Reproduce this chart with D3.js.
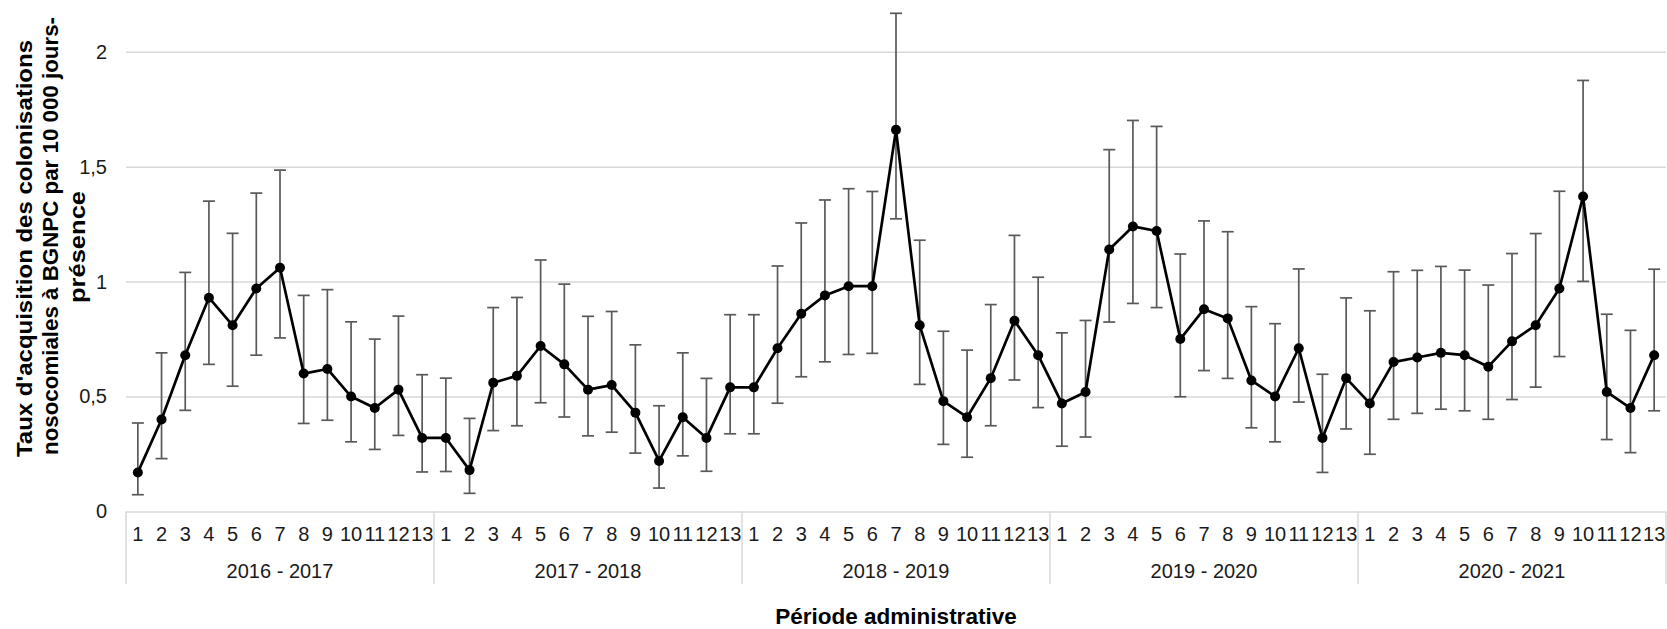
<!DOCTYPE html>
<html>
<head>
<meta charset="utf-8">
<script src="https://cdn.jsdelivr.net/npm/d3@7"></script>
<style>
  body { margin: 0; background: #fff; }
  text { font-family: "Liberation Sans", Arial, sans-serif; }
</style>
</head>
<body>
<div id="chart"></div>
<script>
// categories
var years = ["2016 - 2017", "2017 - 2018", "2018 - 2019", "2019 - 2020", "2020 - 2021"];
var periods = ["1", "2", "3", "4", "5", "6", "7", "8", "9", "10", "11", "12", "13"];
var yTicks = [0, 0.5, 1, 1.5, 2];

// acquisition rate per 10 000 patient-days, one value per period
var rates = [
  0.17, 0.40, 0.68, 0.93, 0.81, 0.97, 1.06, 0.60, 0.62, 0.50, 0.45, 0.53, 0.32,
  0.32, 0.18, 0.56, 0.59, 0.72, 0.64, 0.53, 0.55, 0.43, 0.22, 0.41, 0.32, 0.54,
  0.54, 0.71, 0.86, 0.94, 0.98, 0.98, 1.66, 0.81, 0.48, 0.41, 0.58, 0.83, 0.68,
  0.47, 0.52, 1.14, 1.24, 1.22, 0.75, 0.88, 0.84, 0.57, 0.50, 0.71, 0.32, 0.58,
  0.47, 0.65, 0.67, 0.69, 0.68, 0.63, 0.74, 0.81, 0.97, 1.37, 0.52, 0.45, 0.68
];
// upper bound of the error bar
var upper = [
  0.385, 0.69, 1.04, 1.35, 1.21, 1.385, 1.485, 0.94, 0.965, 0.825, 0.75, 0.85, 0.595,
  0.58, 0.405, 0.887, 0.931, 1.094, 0.989, 0.849, 0.87, 0.725, 0.46, 0.69, 0.579, 0.856,
  0.856, 1.068, 1.255, 1.355, 1.404, 1.392, 2.167, 1.18, 0.784, 0.702, 0.90, 1.201, 1.019,
  0.777, 0.831, 1.574, 1.701, 1.675, 1.12, 1.264, 1.217, 0.891, 0.817, 1.055, 0.597, 0.929,
  0.873, 1.043, 1.049, 1.066, 1.05, 0.985, 1.122, 1.209, 1.393, 1.875, 0.858, 0.788, 1.054
];
// lower bound of the error bar
var lower = [
  0.073, 0.23, 0.44, 0.64, 0.545, 0.68, 0.755, 0.383, 0.397, 0.303, 0.27, 0.331, 0.172,
  0.174, 0.079, 0.352, 0.373, 0.473, 0.411, 0.329, 0.345, 0.254, 0.102, 0.242, 0.175, 0.338,
  0.338, 0.471, 0.586, 0.651, 0.683, 0.688, 1.273, 0.553, 0.292, 0.236, 0.373, 0.572, 0.452,
  0.284, 0.324, 0.824, 0.905, 0.887, 0.499, 0.613, 0.579, 0.364, 0.303, 0.476, 0.17, 0.359,
  0.249, 0.401, 0.427, 0.445, 0.438, 0.401, 0.487, 0.541, 0.674, 1.001, 0.313, 0.256, 0.438
];

var yTitle = ["Taux d'acquisition des colonisations",
              "nosocomiales à BGNPC par 10 000 jours-",
              "présence"];

var W = 1667, H = 629;
var plotLeft = 126, plotRight = 1666, plotTop = 51.7, plotBottom = 511.5;
// where each y-title line sits (centre along the axis, drawn length)
var yTitleLayout = [{ c: 248.5, len: 417 }, { c: 236, len: 438 }, { c: 247, len: 112 }];

var data = rates.map(function (v, i) {
  return { i: i, v: v, hi: upper[i], lo: lower[i],
           period: periods[i % periods.length], year: years[Math.floor(i / periods.length)] };
});

var svg = d3.select("#chart")
  .append("svg")
  .attr("width", W)
  .attr("height", H);

var x = d3.scaleBand()
  .domain(d3.range(data.length))
  .range([plotLeft, plotRight]);

var y = d3.scaleLinear()
  .domain([0, 2])
  .range([plotBottom, plotTop]);

// Y axis + gridlines
var yAxis = svg.append("g")
  .attr("transform", "translate(" + plotLeft + ",0)")
  .call(d3.axisLeft(y)
    .tickValues(yTicks)
    .tickSize(-(plotRight - plotLeft))
    .tickPadding(19)
    .tickFormat(function (d) { return String(d).replace(".", ","); }));
yAxis.select(".domain").remove();
yAxis.selectAll(".tick line")
  .attr("stroke", "#d9d9d9")
  .attr("stroke-width", 1.5);
yAxis.selectAll(".tick text")
  .attr("fill", "#1a1a1a")
  .style("font-size", "20px");

// X axis: period labels
var xAxis = svg.append("g")
  .attr("transform", "translate(0," + plotBottom + ")")
  .call(d3.axisBottom(x)
    .tickSize(0)
    .tickPadding(0)
    .tickFormat(function (i) { return data[i].period; }));
xAxis.select(".domain").remove();
xAxis.selectAll(".tick text")
  .attr("y", 29.5)
  .attr("dy", null)
  .attr("fill", "#1a1a1a")
  .style("font-size", "20px");

// year groups
var yearScale = d3.scaleBand()
  .domain(years)
  .range([plotLeft, plotRight]);

svg.append("g")
  .selectAll("line")
  .data(d3.range(years.length + 1))
  .join("line")
  .attr("x1", function (k) { return k < years.length ? yearScale(years[k]) : plotRight; })
  .attr("x2", function (k) { return k < years.length ? yearScale(years[k]) : plotRight; })
  .attr("y1", plotBottom)
  .attr("y2", 584)
  .attr("stroke", "#d9d9d9")
  .attr("stroke-width", 1.5);

svg.append("g")
  .selectAll("text")
  .data(years)
  .join("text")
  .attr("x", function (d) { return yearScale(d) + yearScale.bandwidth() / 2; })
  .attr("y", 578)
  .attr("text-anchor", "middle")
  .attr("fill", "#1a1a1a")
  .style("font-size", "20px")
  .text(function (d) { return d; });

// error bars
var cx = function (d) { return x(d.i) + x.bandwidth() / 2; };
var bars = svg.append("g")
  .attr("stroke", "#595959")
  .attr("stroke-width", 1.7);

bars.selectAll(".stem")
  .data(data)
  .join("line")
  .attr("class", "stem")
  .attr("x1", cx).attr("x2", cx)
  .attr("y1", function (d) { return y(d.lo); })
  .attr("y2", function (d) { return y(d.hi); });

bars.selectAll(".capHi")
  .data(data)
  .join("line")
  .attr("class", "capHi")
  .attr("x1", function (d) { return cx(d) - 6; })
  .attr("x2", function (d) { return cx(d) + 6; })
  .attr("y1", function (d) { return y(d.hi); })
  .attr("y2", function (d) { return y(d.hi); });

bars.selectAll(".capLo")
  .data(data)
  .join("line")
  .attr("class", "capLo")
  .attr("x1", function (d) { return cx(d) - 6; })
  .attr("x2", function (d) { return cx(d) + 6; })
  .attr("y1", function (d) { return y(d.lo); })
  .attr("y2", function (d) { return y(d.lo); });

// the line
svg.append("path")
  .datum(data)
  .attr("fill", "none")
  .attr("stroke", "#000")
  .attr("stroke-width", 2.7)
  .attr("stroke-linejoin", "round")
  .attr("d", d3.line()
    .x(cx)
    .y(function (d) { return y(d.v); }));

// markers
svg.append("g")
  .selectAll("circle")
  .data(data)
  .join("circle")
  .attr("cx", cx)
  .attr("cy", function (d) { return y(d.v); })
  .attr("r", 5)
  .attr("fill", "#000");

// axis titles
svg.append("text")
  .attr("x", (plotLeft + plotRight) / 2)
  .attr("y", 624)
  .attr("text-anchor", "middle")
  .attr("fill", "#000")
  .style("font-size", "22.5px")
  .style("font-weight", "bold")
  .text("Période administrative");

svg.append("g")
  .selectAll("text")
  .data(yTitle)
  .join("text")
  .attr("transform", function (d, k) {
    return "translate(" + (31.7 + k * 26.6) + "," + yTitleLayout[k].c + ") rotate(-90)";
  })
  .attr("text-anchor", "middle")
  .attr("textLength", function (d, k) { return yTitleLayout[k].len; })
  .attr("lengthAdjust", "spacingAndGlyphs")
  .attr("fill", "#000")
  .style("font-size", "22.5px")
  .style("font-weight", "bold")
  .text(function (d) { return d; });
</script>
</body>
</html>
